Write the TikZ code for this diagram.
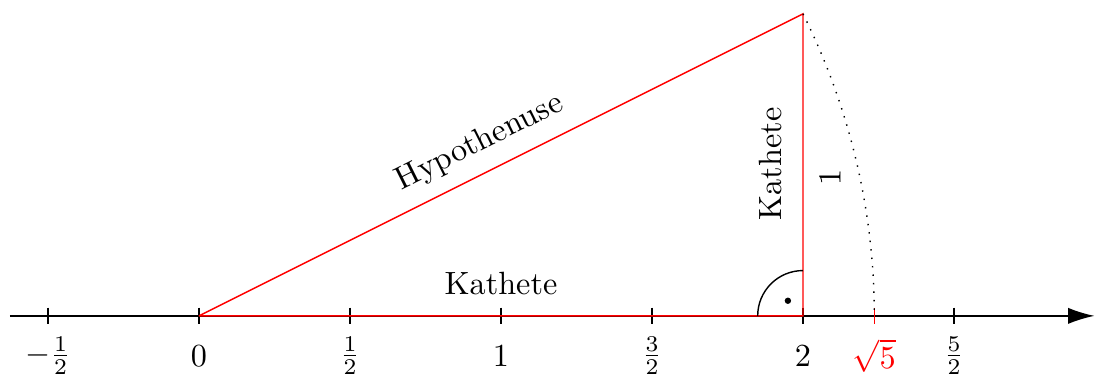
\documentclass[tikz,border=0pt]{standalone}
\usetikzlibrary{arrows.meta}
\begin{document}
\begin{tikzpicture}[x=3cm,y=3cm,
  tick/.style={line width=0.4pt},
  leg/.style={red},
  txt/.style={scale=0.91},
  ticklab/.style={inner sep=0pt,scale=0.91}]
\useasboundingbox (-0.659,-0.215) rectangle (2.967,1.046);
\coordinate (L) at (-0.626,0);
\coordinate (R) at (2.965,0);
\draw[-{Latex[length=2.6mm,width=1.6mm]}] (L) -- (R);
\foreach \x in {-0.5,0,0.5,1,1.5,2,2.5}
  \draw[tick] (\x,0.027) -- (\x,-0.027);
\foreach \x/\t in {-0.5/{$-\frac{1}{2}$},0/{$0$},0.5/{$\frac{1}{2}$},1/{$1$},1.5/{$\frac{3}{2}$},2/{$2$},2.5/{$\frac{5}{2}$}}
  \node[ticklab] at (\x,-0.132) {\t};
\draw[red] (2.23607,0.027) -- (2.23607,-0.027);
\node[ticklab,red] at (2.23607,-0.132) {$\sqrt{5}$};
% triangle
\coordinate (O) at (0,0);
\coordinate (B) at (2,0);
\coordinate (C) at (2,1);
\draw[leg] (O) -- (B) -- (C) -- (O);
% right angle
\draw (2,0.15) arc (90:180:0.15);
\fill (1.95,0.05) circle (0.9pt);
% arc
\draw[dotted] (C) arc (26.565:0:2.23607);
% labels
\node[txt,rotate=26.565] (hyp) at (0.93,0.573) {Hypothenuse};
\node[txt,anchor=base] (kh) at (1,0.07) {Kathete};
\node[txt,rotate=90] (kv) at (1.891,0.503) {Kathete};
\node[txt,rotate=90] (one) at (2.09,0.457) {$1$};
\end{tikzpicture}
\end{document}
